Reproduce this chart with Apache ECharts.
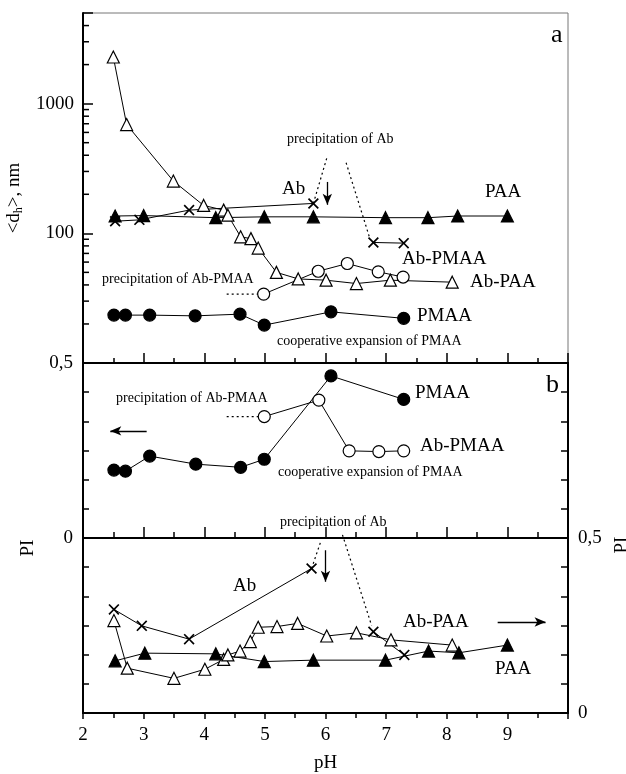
<!DOCTYPE html>
<html>
<head>
<meta charset="utf-8">
<script src="https://cdn.jsdelivr.net/npm/echarts@6/dist/echarts.min.js"></script>
<style>
  html, body { margin: 0; padding: 0; background: #fff; }
  #chart { width: 626px; height: 774px; }
</style>
</head>
<body>
<div id="chart"></div>
<script>
// ---- panel a : <d_h>, nm (log) ----
var paaTopPh = [2.53, 3.0, 4.19, 4.99, 5.8, 6.99, 7.69, 8.18, 9.0];
var paaTopD = [136, 137, 132, 134, 134, 132, 132, 136, 136];
var abTopPh = [2.53, 2.93, 3.75, 5.8, '-', 6.79, 7.29];
var abTopD = [124, 127, 151, 170, '-', 85, 84];
var abPaaTopPh = [2.5, 2.72, 3.49, 3.99, 4.32, 4.39, 4.6, 4.77, 4.89, 5.19, 5.55, 6.01, 6.51, 7.07, 8.09];
var abPaaTopD = [2290, 690, 253, 164, 151, 138, 94, 91, 77, 50, 44.5, 43.5, 41, 43.5, 42];
var abPmaaTopPh = [4.98, 5.88, 6.36, 6.87, 7.28];
var abPmaaTopD = [34, 51, 58.5, 50.5, 46];
var pmaaTopPh = [2.51, 2.7, 3.1, 3.85, 4.59, 4.99, 6.09, 7.29];
var pmaaTopD = [23.4, 23.4, 23.4, 23.1, 23.8, 19.6, 24.8, 22.1];
// dotted guides, panel a
var dotPmaaTopPh = [4.37, 4.98];
var dotPmaaTopD = [34, 34];
var dotAbTopPh = [5.8, 6.02, '-', 6.34, 6.72];
var dotAbTopD = [170, 379, '-', 350, 95];

// ---- panel b : PI ----
// left axis
var pmaaBotPh = [2.51, 2.7, 3.1, 3.86, 4.6, 4.99, 6.09, 7.29];
var pmaaBotPI = [0.194, 0.191, 0.234, 0.211, 0.202, 0.225, 0.463, 0.396];
var abPmaaBotPh = [4.99, 5.89, 6.39, 6.88, 7.29];
var abPmaaBotPI = [0.347, 0.394, 0.249, 0.247, 0.249];
var dotPmaaBotPh = [4.37, 4.99];
var dotPmaaBotPI = [0.347, 0.347];
// right axis
var abBotPh = [2.51, 2.97, 3.75, 5.77, '-', 6.79, 7.30];
var abBotPI = [0.296, 0.249, 0.211, 0.413, '-', 0.232, 0.166];
var abPaaBotPh = [2.51, 2.73, 3.5, 4.01, 4.32, 4.39, 4.59, 4.76, 4.89, 5.2, 5.54, 6.02, 6.51, 7.08, 8.09];
var abPaaBotPI = [0.264, 0.128, 0.099, 0.125, 0.153, 0.166, 0.177, 0.204, 0.245, 0.247, 0.256, 0.22, 0.229, 0.209, 0.194];
var paaBotPh = [2.53, 3.02, 4.19, 4.99, 5.8, 6.99, 7.7, 8.2, 9.0];
var paaBotPI = [0.149, 0.171, 0.169, 0.147, 0.151, 0.151, 0.177, 0.172, 0.194];
var dotAbBotPh = [5.77, 5.93, '-', 6.28, 6.76];
var dotAbBotPI = [0.413, 0.494, '-', 0.509, 0.25];

// tick labels
var xLabels = ['2', '3', '4', '5', '6', '7', '8', '9'];
var logLabels = [100, 1000];
var logMinor = [20, 30, 40, 50, 60, 70, 80, 90, 200, 300, 400, 500, 600, 700, 800, 900, 2000, 3000, 4000];

var FONT = 'Liberation Serif';
var CROSS = 'path://M0,1.1L1.1,0L5,3.9L8.9,0L10,1.1L6.1,5L10,8.9L8.9,10L5,6.1L1.1,10L0,8.9L3.9,5Z';

function pts(xs, ys) {
    return xs.map(function (x, i) { return x === '-' ? ['-', '-'] : [x, ys[i]]; });
}

function mark(name, xs, ys, xi, yi, sym, fill) {
    return {
        name: name, type: 'line', xAxisIndex: xi, yAxisIndex: yi,
        data: pts(xs, ys), symbol: sym, symbolSize: sym === CROSS ? 11 : 12,
        showAllSymbol: true, connectNulls: false, z: 5,
        lineStyle: { color: '#000', width: 1 },
        itemStyle: { color: fill, borderColor: '#000', borderWidth: sym === CROSS ? 0 : 1.2 }
    };
}

function dotted(xs, ys, xi, yi, arrows) {
    var s = {
        type: 'line', xAxisIndex: xi, yAxisIndex: yi, data: pts(xs, ys),
        symbol: 'none', connectNulls: false, z: 4,
        lineStyle: { color: '#000', width: 1.2, type: [2, 3] }
    };
    if (arrows) {
        s.markLine = {
            silent: true, symbol: ['none', 'arrow'], symbolSize: [7, 11],
            lineStyle: { color: '#000', width: 1.3, type: 'solid' },
            label: { show: false },
            data: arrows.map(function (a) { return [{ coord: a[0] }, { coord: a[1] }]; })
        };
    }
    return s;
}

var axisLine = { show: true, lineStyle: { color: '#000', width: 2 } };
var tickStyle = { color: '#000', width: 1.5 };

var chart = echarts.init(document.getElementById('chart'), null, { renderer: 'canvas' });

var option = {
    animation: false,
    backgroundColor: '#fff',
    grid: [
        { left: 83, top: 13, width: 485, height: 350, show: true, borderColor: '#777', borderWidth: 1,
          backgroundColor: 'transparent', containLabel: false, outerBoundsMode: 'none' },
        { left: 83, top: 363, width: 485, height: 350, show: true, borderColor: '#000', borderWidth: 2,
          backgroundColor: 'transparent', containLabel: false, outerBoundsMode: 'none' }
    ],
    xAxis: [
        {
            gridIndex: 0, type: 'value', min: 2, max: 10, interval: 1, position: 'bottom',
            axisLine: axisLine,
            axisTick: { inside: true, length: 10, lineStyle: tickStyle },
            minorTick: { show: true, splitNumber: 2, length: 5, lineStyle: tickStyle },
            axisLabel: { show: false }, splitLine: { show: false }
        },
        {
            gridIndex: 1, type: 'value', min: 2, max: 10, interval: 1, position: 'bottom',
            axisLine: axisLine,
            axisTick: { inside: true, length: 11, lineStyle: tickStyle },
            minorTick: { show: true, splitNumber: 2, length: 6, lineStyle: tickStyle },
            axisLabel: {
                fontFamily: FONT, fontSize: 19, color: '#000', margin: 13,
                formatter: function (v) { return xLabels.indexOf(String(v)) >= 0 ? String(v) : ''; }
            },
            splitLine: { show: false },
            name: 'pH', nameLocation: 'middle', nameGap: 41,
            nameTextStyle: { fontFamily: FONT, fontSize: 19, color: '#000' }
        },
        {
            gridIndex: 1, type: 'value', min: 2, max: 10, interval: 1, position: 'top',
            axisLine: axisLine,
            axisTick: { inside: true, length: 6, lineStyle: tickStyle },
            minorTick: { show: true, splitNumber: 2, length: 5, lineStyle: tickStyle },
            axisLabel: { show: false }, splitLine: { show: false }
        }
    ],
    yAxis: [
        {
            gridIndex: 0, type: 'log', logBase: 10, min: 10, max: 5000, position: 'left',
            axisLine: axisLine,
            axisTick: { inside: true, length: 10, lineStyle: tickStyle },
            axisLabel: {
                fontFamily: FONT, fontSize: 19, color: '#000', margin: 9,
                formatter: function (v) { return logLabels.indexOf(Math.round(v)) >= 0 ? String(Math.round(v)) : ''; }
            },
            splitLine: { show: false },
            name: '<d{s|h}>, nm', nameLocation: 'middle', nameGap: 58, nameRotate: 90,
            nameTextStyle: {
                fontFamily: FONT, fontSize: 19, color: '#000', padding: [0, 20, 0, 0],
                rich: { s: { fontFamily: FONT, fontSize: 12, color: '#000', padding: [9, 0, 0, 0] } }
            }
        },
        {
            gridIndex: 1, type: 'value', min: -0.5, max: 0.5, interval: 0.5, position: 'left',
            axisLine: axisLine,
            axisTick: { inside: true, length: 10, lineStyle: tickStyle },
            minorTick: { show: true, splitNumber: 6, length: 6, lineStyle: tickStyle },
            axisLabel: {
                fontFamily: FONT, fontSize: 19, color: '#000', margin: 10,
                formatter: function (v) { return v === 0 ? '0' : (v === 0.5 ? '0,5' : ''); }
            },
            splitLine: { show: false },
            name: 'PI', nameLocation: 'middle', nameGap: 45, nameRotate: 90,
            nameTextStyle: { fontFamily: FONT, fontSize: 19, color: '#000', padding: [0, 20, 0, 0] }
        },
        {
            gridIndex: 1, type: 'value', min: 0, max: 1, interval: 0.5, position: 'right',
            axisLine: axisLine,
            axisTick: { inside: true, length: 9, lineStyle: tickStyle },
            minorTick: { show: true, splitNumber: 6, length: 7, lineStyle: tickStyle },
            axisLabel: {
                fontFamily: FONT, fontSize: 19, color: '#000', margin: 10,
                formatter: function (v) { return v === 0 ? '0' : (v === 0.5 ? '0,5' : ''); }
            },
            splitLine: { show: false },
            name: 'PI', nameLocation: 'middle', nameGap: 44, nameRotate: 90,
            nameTextStyle: { fontFamily: FONT, fontSize: 19, color: '#000', padding: [0, 14, 0, 0] }
        }
    ],
    series: [
        // log minor ticks on the left axis of panel a
        {
            type: 'custom', xAxisIndex: 0, yAxisIndex: 0, silent: true, clip: false, z: 6,
            data: logMinor.map(function (v) { return [2, v]; }),
            renderItem: function (params, api) {
                var p = api.coord([api.value(0), api.value(1)]);
                return { type: 'line', shape: { x1: p[0] + 1, y1: p[1], x2: p[0] + 6, y2: p[1] },
                         style: { stroke: '#000', lineWidth: 1.5 } };
            }
        },
        // panel a
        mark('Ab-PAA', abPaaTopPh, abPaaTopD, 0, 0, 'triangle', '#fff'),
        mark('PAA', paaTopPh, paaTopD, 0, 0, 'triangle', '#000'),
        mark('Ab', abTopPh, abTopD, 0, 0, CROSS, '#000'),
        mark('Ab-PMAA', abPmaaTopPh, abPmaaTopD, 0, 0, 'circle', '#fff'),
        mark('PMAA', pmaaTopPh, pmaaTopD, 0, 0, 'circle', '#000'),
        dotted(dotPmaaTopPh, dotPmaaTopD, 0, 0),
        dotted(dotAbTopPh, dotAbTopD, 0, 0, [[[6.03, 249], [6.03, 166]]]),
        // panel b, left axis
        mark('PMAA', pmaaBotPh, pmaaBotPI, 1, 1, 'circle', '#000'),
        mark('Ab-PMAA', abPmaaBotPh, abPmaaBotPI, 1, 1, 'circle', '#fff'),
        dotted(dotPmaaBotPh, dotPmaaBotPI, 1, 1, [[[3.05, 0.306], [2.45, 0.306]]]),
        // panel b, right axis
        mark('Ab-PAA', abPaaBotPh, abPaaBotPI, 1, 2, 'triangle', '#fff'),
        mark('PAA', paaBotPh, paaBotPI, 1, 2, 'triangle', '#000'),
        mark('Ab', abBotPh, abBotPI, 1, 2, CROSS, '#000'),
        dotted(dotAbBotPh, dotAbBotPI, 1, 2, [[[6.0, 0.465], [6.0, 0.375]], [[8.84, 0.26], [9.63, 0.26]]])
    ],
    graphic: [
        { type: 'text', left: 551, top: 22, style: { text: 'a', font: '26px "Liberation Serif"', fill: '#000' } },
        { type: 'text', left: 287, top: 132, style: { text: 'precipitation of Ab', font: '14px "Liberation Serif"', fill: '#000' } },
        { type: 'text', left: 282, top: 180, style: { text: 'Ab', font: '19px "Liberation Serif"', fill: '#000' } },
        { type: 'text', left: 485, top: 183, style: { text: 'PAA', font: '19px "Liberation Serif"', fill: '#000' } },
        { type: 'text', left: 402, top: 250, style: { text: 'Ab-PMAA', font: '19px "Liberation Serif"', fill: '#000' } },
        { type: 'text', left: 470, top: 273, style: { text: 'Ab-PAA', font: '19px "Liberation Serif"', fill: '#000' } },
        { type: 'text', left: 417, top: 307, style: { text: 'PMAA', font: '19px "Liberation Serif"', fill: '#000' } },
        { type: 'text', left: 102, top: 272, style: { text: 'precipitation of Ab-PMAA', font: '14px "Liberation Serif"', fill: '#000' } },
        { type: 'text', left: 277, top: 334, style: { text: 'cooperative expansion of PMAA', font: '14px "Liberation Serif"', fill: '#000' } },

        { type: 'text', left: 546, top: 372, style: { text: 'b', font: '26px "Liberation Serif"', fill: '#000' } },
        { type: 'text', left: 415, top: 384, style: { text: 'PMAA', font: '19px "Liberation Serif"', fill: '#000' } },
        { type: 'text', left: 420, top: 437, style: { text: 'Ab-PMAA', font: '19px "Liberation Serif"', fill: '#000' } },
        { type: 'text', left: 116, top: 391, style: { text: 'precipitation of Ab-PMAA', font: '14px "Liberation Serif"', fill: '#000' } },
        { type: 'text', left: 278, top: 465, style: { text: 'cooperative expansion of PMAA', font: '14px "Liberation Serif"', fill: '#000' } },
        { type: 'text', left: 280, top: 515, style: { text: 'precipitation of Ab', font: '14px "Liberation Serif"', fill: '#000' } },
        { type: 'text', left: 233, top: 577, style: { text: 'Ab', font: '19px "Liberation Serif"', fill: '#000' } },
        { type: 'text', left: 403, top: 613, style: { text: 'Ab-PAA', font: '19px "Liberation Serif"', fill: '#000' } },
        { type: 'text', left: 495, top: 660, style: { text: 'PAA', font: '19px "Liberation Serif"', fill: '#000' } }
    ]
};
chart.setOption(option);
</script>
</body>
</html>
